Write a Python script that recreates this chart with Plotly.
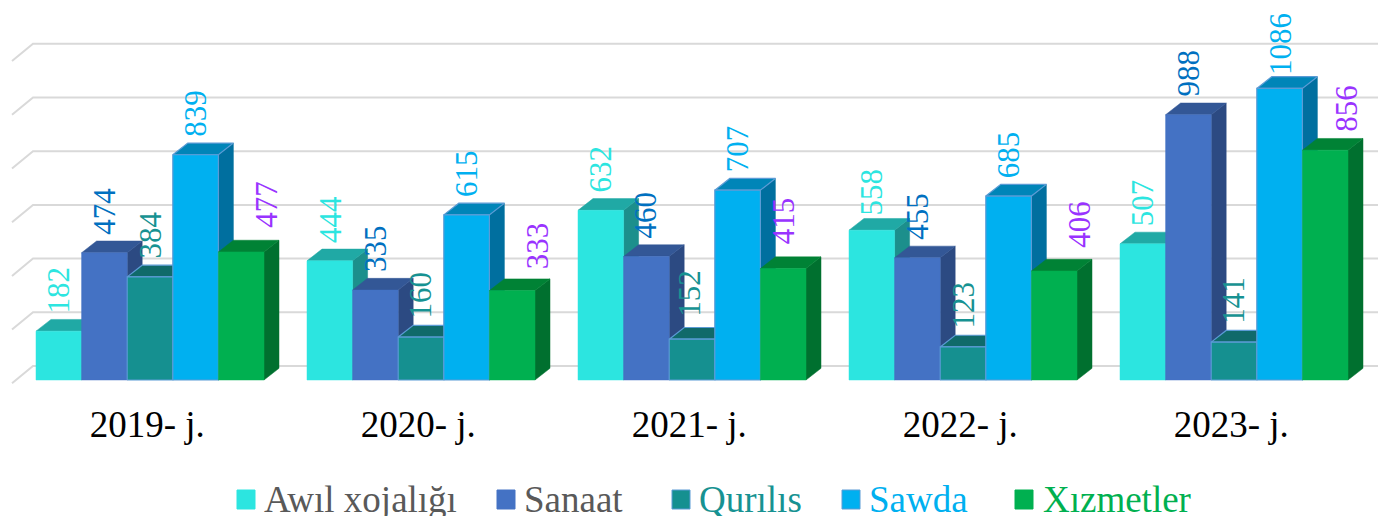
import plotly.graph_objects as go

years = ["2019- j.", "2020- j.", "2021- j.", "2022- j.", "2023- j."]
series_names = ["Awıl xojalığı", "Sanaat", "Qurılıs", "Sawda", "Xızmetler"]
awil = [182, 444, 632, 558, 507]
sanaat = [474, 335, 460, 455, 988]
qurilis = [384, 160, 152, 123, 141]
sawda = [839, 615, 707, 685, 1086]
xizmetler = [477, 333, 415, 406, 856]
all_values = [awil, sanaat, qurilis, sawda, xizmetler]
grid_values = [0, 200, 400, 600, 800, 1000, 1200]

front_colors = ["#2CE5E0", "#4472C4", "#159090", "#00B0F0", "#00B050"]
top_colors = ["#20A9A5", "#335796", "#106A6A", "#0085B8", "#008235"]
side_colors = ["#1C8F8C", "#2C4A82", "#0E5F5F", "#006F9F", "#00702F"]
edge_colors = [None, None, "#5B9BD5", "#5B9BD5", None]
label_colors = ["#2CE5E0", "#0070C0", "#179292", "#00B0F0", "#9933FF"]
legend_text_colors = ["#595959", "#595959", "#179292", "#00B0F0", "#00B050"]
legend_marker_px = [246, 506, 681, 851, 1024]
legend_text_px = [262, 522, 697, 867, 1041]

W, H = 1378, 516
PLOT_BOTTOM = 395
ZERO_Y = 380
PX_PER_UNIT_Y = 0.2685
GROUP_PX = 271
FIRST_CENTER = 150.0
BAR_W = 45.6 / GROUP_PX
DX = 15 / GROUP_PX
DY = 11.7 / PX_PER_UNIT_Y

# hand placement of data labels that sit away from the default spot: (series, group) -> (dx px, dy px)
label_nudges = {(4, 2): (-25, 0), (4, 4): (-4, -6), (4, 3): (0, -1), (4, 1): (0, -3),
                (0, 3): (0, -3), (2, 2): (-2, 4), (3, 4): (1, -5)}


def px_x(p):
    return (p - FIRST_CENTER) / GROUP_PX


def paper_x(p):
    return p / W


def paper_y(p):
    # paper y runs over the plot area, which ends at PLOT_BOTTOM
    return (PLOT_BOTTOM - p) / PLOT_BOTTOM


def px_y(p):
    return (ZERO_Y - p) / PX_PER_UNIT_Y


fig = go.Figure()

gx, gy = [], []
back_off = (ZERO_Y - 366) / PX_PER_UNIT_Y
front_off = (ZERO_Y - 383.3) / PX_PER_UNIT_Y
for v in grid_values:
    gx += [px_x(12), px_x(33), px_x(W), None]
    gy += [v + front_off, v + back_off, v + back_off, None]
fig.add_trace(go.Scatter(x=gx, y=gy, mode="lines", line=dict(color="#D9D9D9", width=2),
                         hoverinfo="skip", showlegend=False))


def poly(xs, ys, fill, edge):
    fig.add_trace(go.Scatter(
        x=xs + [xs[0]], y=ys + [ys[0]], mode="lines", fill="toself", fillcolor=fill,
        line=dict(color=edge if edge else fill, width=1.2 if edge else 0.5),
        hoverinfo="skip", showlegend=False))


for g in range(len(years)):
    for s, vals in enumerate(all_values):
        v = vals[g]
        x0 = g + (s - 2.5) * BAR_W
        x1 = x0 + BAR_W
        poly([x1, x1 + DX, x1 + DX, x1], [0, DY, v + DY, v], side_colors[s], None)
        poly([x0, x1, x1 + DX, x0 + DX], [v, v, v + DY, v + DY], top_colors[s], edge_colors[s])
        poly([x0, x1, x1, x0], [0, 0, v, v], front_colors[s], edge_colors[s])

annotations = []
for g in range(len(years)):
    for s, vals in enumerate(all_values):
        v = vals[g]
        xc = g + (s - 2) * BAR_W
        nx, ny = label_nudges.get((s, g), (0, 0))
        annotations.append(dict(
            x=xc, y=v, xref="x", yref="y", text=str(v), showarrow=False, textangle=-90,
            xanchor="center", yanchor="bottom",
            xshift=(25 if s == 4 else 0) + nx, yshift=(22 if s == 4 else 16) + ny,
            font=dict(family="Liberation Serif", size=31, color=label_colors[s])))

shapes = []
for s, name in enumerate(series_names):
    cx = legend_marker_px[s]
    shapes.append(dict(
        type="rect", xref="paper", yref="paper", layer="above",
        x0=paper_x(cx - 9), x1=paper_x(cx + 9), y0=paper_y(509), y1=paper_y(490),
        fillcolor=front_colors[s], line=dict(color=edge_colors[s] or front_colors[s], width=1)))
    annotations.append(dict(
        x=paper_x(legend_text_px[s]), y=paper_y(499), xref="paper", yref="paper", text=name,
        showarrow=False, xanchor="left", yanchor="middle",
        font=dict(family="Liberation Serif", size=37, color=legend_text_colors[s])))

fig.update_layout(
    width=W, height=H, margin=dict(l=0, r=0, t=0, b=H - PLOT_BOTTOM),
    paper_bgcolor="white", plot_bgcolor="white", showlegend=False,
    annotations=annotations, shapes=shapes,
    xaxis=dict(range=[px_x(0), px_x(W)], tickmode="array",
               tickvals=[i - 0.01 for i in range(len(years))], ticktext=years,
               showgrid=False, zeroline=False, showline=False, ticks="", automargin=False,
               ticklabelstandoff=4,
               tickfont=dict(family="Liberation Serif", size=37, color="#000000")),
    yaxis=dict(range=[px_y(PLOT_BOTTOM), px_y(0)], showgrid=False, zeroline=False,
               showline=False, showticklabels=False, automargin=False),
)

fig.write_html("out.html", config={"displayModeBar": False},
               post_script="document.body.style.margin='0';document.body.style.overflow='hidden';")
